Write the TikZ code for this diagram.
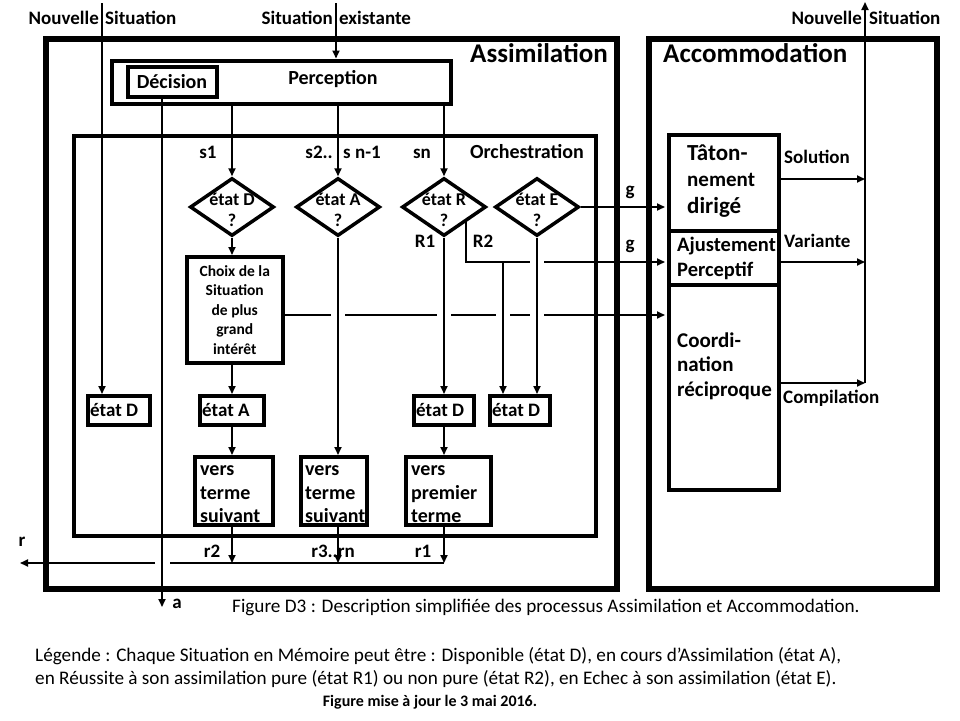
\documentclass[tikz,border=0pt]{standalone}
\usepackage{fontspec}
\setmainfont{Carlito}
\usetikzlibrary{shapes.geometric,arrows.meta}
\begin{document}
\begin{tikzpicture}[x=1pt,y=-1pt,
  outerbox/.style={draw,line width=6pt,inner sep=0pt,line join=miter},
  midbox/.style={draw,line width=3.5pt,inner sep=0pt,anchor=north west},
  conn/.style={line width=1.8pt},
  arr/.style={conn,-{Triangle[length=8pt,width=7pt]}},
  lbl/.style={font=\bfseries\fontsize{19}{22}\selectfont,inner sep=0pt},
  diam/.style={diamond,draw,line width=3.5pt,minimum width=84pt,minimum height=58pt,inner sep=0pt},
  dtext/.style={font=\bfseries\fontsize{18}{21}\selectfont,inner sep=0pt,align=center,yshift=-3pt},
  verstext/.style={inner sep=0pt,align=left,anchor=north west,font=\bfseries\fontsize{20}{23.5}\selectfont},
  captext/.style={font=\fontsize{19.2}{22}\selectfont,inner sep=0pt,anchor=west}
]
\fill[white] (0,0) rectangle (960,720);
\useasboundingbox (0,0) rectangle (960,720);

% outer boxes
\node[outerbox,minimum width=571.5pt,minimum height=550.5pt,anchor=north west] (assim) at (42.5,35.5) {};
\node[outerbox,minimum width=288pt,minimum height=550.5pt,anchor=north west] (accom) at (646,35.5) {};
\node[lbl,font=\bfseries\fontsize{27}{30}\selectfont,anchor=east] (assimT) at (608,53) {Assimilation};
\node[lbl,font=\bfseries\fontsize{27}{30}\selectfont,anchor=west] (accomT) at (663,53) {Accommodation};

% perception / decision
\node[midbox,line width=4pt,minimum width=339pt,minimum height=43.5pt] (perc) at (110,58.5) {};
\node[lbl,font=\bfseries\fontsize{20}{24}\selectfont] (percT) at (333,79) {Perception};
\node[midbox,line width=4pt,minimum width=89pt,minimum height=30pt] (dec) at (125.5,65) {};
\node[lbl,font=\bfseries\fontsize{20}{24}\selectfont] (decT) at (dec.center) {Décision};

% orchestration
\node[midbox,line width=4pt,minimum width=522pt,minimum height=400pt] (orch) at (72,133.5) {};
\node[lbl,font=\bfseries\fontsize{20}{24}\selectfont] (orchT) at (527,152) {Orchestration};

% diamonds
\node[diam,label={[dtext]center:{état D\\?}}] (dD) at (232,207) {};
\node[diam,label={[dtext]center:{état A\\?}}] (dA) at (338,207) {};
\node[diam,label={[dtext]center:{état R\\?}}] (dR) at (444,207) {};
\node[diam,label={[dtext]center:{état E\\?}}] (dE) at (537,207) {};

% choix
\node[midbox,minimum width=96pt,minimum height=106pt] (choix) at (185,255) {};
\node[font=\bfseries\fontsize{15.5}{19.5}\selectfont,align=center,inner sep=0pt] (choixT) at (choix.center) {Choix de la\\Situation\\de plus\\grand\\intérêt};

% etat boxes
\node[midbox,minimum width=62pt,minimum height=29pt] (ed1) at (86,394) {};
\node[midbox,minimum width=64pt,minimum height=29pt] (eA) at (198,394) {};
\node[midbox,minimum width=60pt,minimum height=29pt] (ed3) at (412,394) {};
\node[midbox,minimum width=60pt,minimum height=29pt] (ed4) at (488,394) {};
\node[lbl,anchor=west] (ed1T) at ([xshift=4pt]ed1.west) {état D};
\node[lbl,anchor=west] (eAT) at ([xshift=4pt]eA.west) {état A};
\node[lbl,anchor=west] (ed3T) at ([xshift=4pt]ed3.west) {état D};
\node[lbl,anchor=west] (ed4T) at ([xshift=4pt]ed4.west) {état D};

% vers boxes
\node[midbox,minimum width=78pt,minimum height=68pt] (v1) at (193,455) {};
\node[midbox,minimum width=66pt,minimum height=68pt] (v2) at (299,455) {};
\node[midbox,minimum width=85pt,minimum height=68pt] (v3) at (404,455) {};
\node[verstext] (v1T) at ([xshift=7pt,yshift=-4pt]v1.north west) {\strut vers\\terme\\suivant};
\node[verstext] (v2T) at ([xshift=6pt,yshift=-4pt]v2.north west) {\strut vers\\terme\\suivant};
\node[verstext] (v3T) at ([xshift=7pt,yshift=-4pt]v3.north west) {\strut vers\\premier\\terme};

% accommodation boxes
\node[midbox,minimum width=110pt,minimum height=96pt] (tat) at (667,133) {};
\node[midbox,minimum width=110pt,minimum height=54pt] (aju) at (667,229) {};
\node[midbox,minimum width=110pt,minimum height=205pt] (coo) at (667,283) {};
\node[inner sep=0pt,align=left,anchor=north west,font=\bfseries\fontsize{23}{26.5}\selectfont] (tatT) at (687,141.5) {\strut Tâton-\\{\fontsize{21}{26.5}\selectfont nement}\\dirigé};
\node[inner sep=0pt,align=left,anchor=north west,font=\bfseries\fontsize{20.5}{25}\selectfont] (ajuT) at (677,234) {\strut Ajustement\\Perceptif};
\node[inner sep=0pt,align=left,anchor=north west,font=\bfseries\fontsize{21}{24.5}\selectfont] (cooT) at (677,330) {\strut Coordi-\\nation\\réciproque};

% top labels
\node[lbl,anchor=east] (ns1a) at (99,18) {Nouvelle};
\node[lbl,anchor=west] (ns1b) at (105,18) {Situation};
\node[lbl,anchor=east] (se1a) at (333,18) {Situation};
\node[lbl,anchor=west] (se1b) at (339,18) {existante};
\node[lbl,anchor=east] (ns2a) at (862,18) {Nouvelle};
\node[lbl,anchor=west] (ns2b) at (869,18) {Situation};

% small labels
\node[lbl,anchor=base] (s1) at (208,158) {s1};
\node[lbl,anchor=base east] (s2) at (333,158) {s2..};
\node[lbl,anchor=base west] (sn1) at (343,158) {s n-1};
\node[lbl,anchor=base] (sn) at (422,158) {sn};
\node[lbl,anchor=base] (R1) at (425,247) {R1};
\node[lbl,anchor=base] (R2) at (483,247) {R2};
\node[lbl] (g1) at (630,192) {g};
\node[lbl] (g2) at (630,246) {g};
\node[lbl,anchor=west] (sol) at (784,157) {Solution};
\node[lbl,anchor=west] (var) at (784,241) {Variante};
\node[lbl,anchor=west] (comp) at (783,398) {Compilation};
\node[lbl,anchor=base] (r2) at (212,557) {r2};
\node[lbl,anchor=base] (r3) at (333,557) {r3..rn};
\node[lbl,anchor=base] (r1) at (423,557) {r1};
\node[lbl,anchor=base] (r) at (22,546) {r};
\node[lbl,anchor=base] (a) at (177,608) {a};

% coordinates
\coordinate (nsl) at (102,3);
\coordinate (se) at (336,3);
\coordinate (ax) at (162,607);
\coordinate (yR2) at (0,262);
\coordinate (ych) at (0,315);
\coordinate (yr) at (0,563);
\coordinate (vx) at (865,383);
\coordinate (vtop) at (865,2);
\coordinate (ysol) at (0,179);
\coordinate (yvar) at (0,262);
\coordinate (rgapR) at (170,563);
\coordinate (rgapL) at (155,563);
\coordinate (rout) at (20,563);
\coordinate (xE) at (537,0);
\coordinate (xB) at (503,0);

% connectors
\draw[arr] (nsl) -- (nsl |- ed1.north);
\draw[arr] (se) -- (se |- perc.north);
\draw[arr] (dec.south -| ax) -- (ax);
\draw[arr] (perc.south -| dD.north) -- (dD.north);
\draw[arr] (perc.south -| dA.north) -- (dA.north);
\draw[arr] (perc.south -| dR.north) -- (dR.north);
\draw[arr] (dD.south) -- (choix.north -| dD.south);
\draw[arr] (choix.south -| dD.south) -- (eA.north -| dD.south);
\draw[arr] (eA.south -| dD.south) -- (v1.north -| dD.south);
\draw[arr] (dA.south) -- (v2.north -| dA.south);
\draw[arr] (dR.south) -- (ed3.north -| dR.south);
\draw[arr] (ed3.south -| dR.south) -- (v3.north -| dR.south);
\draw[arr] (dE.south) -- (ed4.north -| dE.south);
\draw[arr,shorten >=2pt] (dE.east) -- (tat.west |- dE.east);
% R2 path
\draw[conn] (dR.south east) -- (dR.south east |- yR2) -- ([xshift=-7pt]xE |- yR2);
\draw[arr,shorten >=2pt] ([xshift=7pt]xE |- yR2) -- (aju.west |- yR2);
\draw[arr] (xB |- yR2) -- (xB |- ed4.north);
% line from choix
\coordinate (ch) at (choix.east |- ych);
\draw[conn] (ch) -- ([xshift=-7pt]dA.south |- ych);
\draw[conn] ([xshift=7pt]dA.south |- ych) -- ([xshift=-7pt]dR.south |- ych);
\draw[conn] ([xshift=7pt]dR.south |- ych) -- ([xshift=-7pt]xB |- ych);
\draw[conn] ([xshift=7pt]xB |- ych) -- ([xshift=-7pt]xE |- ych);
\draw[arr,shorten >=2pt] ([xshift=7pt]xE |- ych) -- (coo.west |- ych);
% outputs
\draw[arr] (tat.east |- ysol) -- (vx |- ysol);
\draw[arr] (aju.east |- yvar) -- (vx |- yvar);
\draw[arr] (coo.east |- vx) -- (vx);
\draw[arr] (vx) -- (vtop);
% returns
\draw[arr] (v1.south -| dD.south) -- (dD.south |- yr);
\draw[arr] (v2.south -| dA.south) -- (dA.south |- yr);
\draw[arr] (v3.south -| dR.south) -- (dR.south |- yr);
\draw[conn] (dR.south |- yr) -- (rgapR);
\draw[arr] (rgapL) -- (rout);

% caption and legend
\node[captext] (capT) at (232,607) {Figure D3 : Description simplifiée des processus Assimilation et Accommodation.};
\node[captext] (leg1) at (35,656) {Légende : Chaque Situation en Mémoire peut être : Disponible (état D), en cours d’Assimilation (état A),};
\node[captext] (leg2) at (35,679) {en Réussite à son assimilation pure (état R1) ou non pure (état R2), en Echec à son assimilation (état E).};
\node[font=\bfseries\fontsize{16}{18}\selectfont,inner sep=0pt] (upd) at (430,702) {Figure mise à jour le 3 mai 2016.};
\end{tikzpicture}
\end{document}
